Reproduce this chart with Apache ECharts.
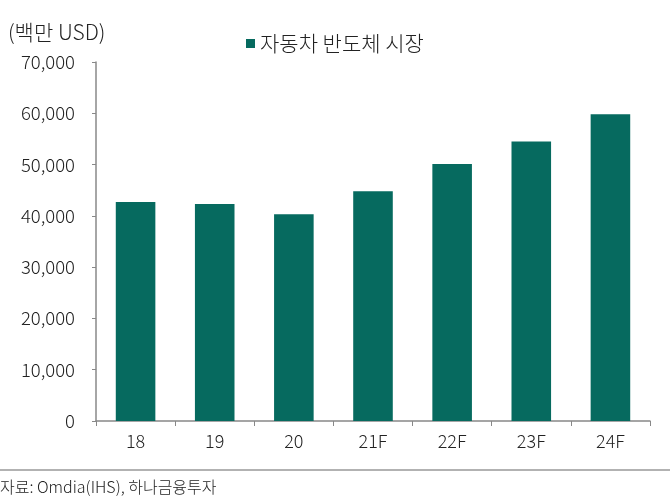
<!DOCTYPE html>
<html>
<head>
<meta charset="utf-8">
<script src="https://cdn.jsdelivr.net/npm/echarts@6/dist/echarts.min.js"></script>
<style>
  html, body { margin: 0; padding: 0; background: #fff; }
  #chart { width: 670px; height: 504px; }
</style>
</head>
<body>
<div id="chart"></div>
<script>
// 자동차 반도체 시장 (백만 USD)
const categories = ["18", "19", "20", "21F", "22F", "23F", "24F"];
const marketValues = [42700, 42300, 40300, 44800, 50100, 54500, 59800];
const yTicks = { min: 0, max: 70000, interval: 10000 };
const seriesName = "자동차 반도체 시장";
const unitLabel = "(백만 USD)";
const sourceNote = "자료: Omdia(IHS), 하나금융투자";

const font = "'Noto Sans CJK KR', 'Noto Sans', sans-serif";
const weight = 300;
const chart = echarts.init(document.getElementById("chart"));

chart.setOption({
  animation: false,
  textStyle: { fontFamily: font, fontWeight: weight },
  grid: { left: 96, right: 20, top: 62, bottom: 83 },
  legend: {
    data: [seriesName],
    left: 241,
    top: 28,
    itemWidth: 9,
    itemHeight: 9,
    itemGap: 4,
    icon: "rect",
    textStyle: { fontSize: 21, color: "#222", fontFamily: font, fontWeight: weight },
  },
  graphic: [
    {
      type: "text",
      left: 8,
      top: 22,
      style: { text: unitLabel, fontSize: 21, fill: "#222", fontFamily: font, fontWeight: weight },
    },
    {
      type: "line",
      shape: { x1: 0, y1: 470, x2: 670, y2: 470 },
      style: { stroke: "#999", lineWidth: 1.5 },
    },
    {
      type: "text",
      left: 0,
      top: 479,
      style: { text: sourceNote, fontSize: 16, fill: "#222", fontFamily: font, fontWeight: weight },
    },
  ],
  xAxis: {
    type: "category",
    data: categories,
    axisLine: { lineStyle: { color: "#888", width: 1.5 } },
    axisTick: { show: true, alignWithLabel: false, length: 5, lineStyle: { color: "#888" } },
    axisLabel: { fontSize: 18, color: "#222", margin: 11, fontWeight: weight },
  },
  yAxis: {
    type: "value",
    min: yTicks.min,
    max: yTicks.max,
    interval: yTicks.interval,
    axisLine: { show: true, lineStyle: { color: "#888", width: 1.5 } },
    axisTick: { show: true, length: 4, lineStyle: { color: "#888" } },
    splitLine: { show: false },
    axisLabel: {
      fontSize: 18.5,
      color: "#222",
      margin: 21,
      fontWeight: weight,
      formatter: (v) => v.toLocaleString("en-US"),
    },
  },
  series: [
    {
      name: seriesName,
      type: "bar",
      data: marketValues,
      barWidth: "50%",
      itemStyle: { color: "#066a5f" },
    },
  ],
});
</script>
</body>
</html>
